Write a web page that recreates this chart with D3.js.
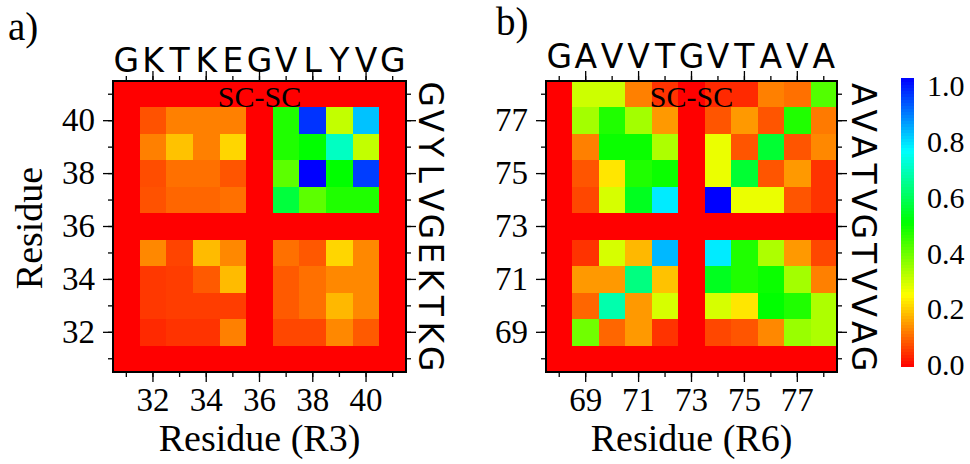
<!DOCTYPE html>
<html>
<head>
<meta charset="utf-8">
<script src="https://cdn.jsdelivr.net/npm/d3@7"></script>
<style>
  body { margin: 0; background: #fff; }
  svg { display: block; }
  text { font-family: "Liberation Serif", "Times New Roman", serif; fill: #000; }
  .seq { font-family: "DejaVu Sans", sans-serif; }
</style>
</head>
<body>
<svg id="chart" width="970" height="464"></svg>
<script>
// ---- R3 segment (residues 31-41) ----
const residuesR3 = [31, 32, 33, 34, 35, 36, 37, 38, 39, 40, 41];
const sequenceR3 = ["G", "K", "T", "K", "E", "G", "V", "L", "Y", "V", "G"];
const labeledR3 = [32, 34, 36, 38, 40];
// rows from top (41) to bottom (31); columns follow residuesR3
const rowsR3 = [41, 40, 39, 38, 37, 36, 35, 34, 33, 32, 31];
const contactsR3 = [
  [0, 0,     0,     0,     0,     0, 0,     0,     0,     0,     0],
  [0, 0.08,  0.125, 0.125, 0.125, 0, 0.47,  0.95,  0.31,  0.81,  0],
  [0, 0.125, 0.19,  0.125, 0.21,  0, 0.47,  0.50,  0.69,  0.31,  0],
  [0, 0.075, 0.11,  0.11,  0.083, 0, 0.41,  1.00,  0.50,  0.94,  0],
  [0, 0.08,  0.10,  0.10,  0.11,  0, 0.56,  0.41,  0.47,  0.47,  0],
  [0, 0,     0,     0,     0,     0, 0,     0,     0,     0,     0],
  [0, 0.133, 0.067, 0.183, 0.133, 0, 0.11,  0.086, 0.21,  0.133, 0],
  [0, 0.055, 0.06,  0.088, 0.183, 0, 0.088, 0.11,  0.133, 0.133, 0],
  [0, 0.055, 0.06,  0.06,  0.06,  0, 0.088, 0.11,  0.18,  0.133, 0],
  [0, 0.04,  0.05,  0.05,  0.125, 0, 0.07,  0.07,  0.133, 0.088, 0],
  [0, 0,     0,     0,     0,     0, 0,     0,     0,     0,     0]
];

// ---- R6 segment (residues 68-78) ----
const residuesR6 = [68, 69, 70, 71, 72, 73, 74, 75, 76, 77, 78];
const sequenceR6 = ["G", "A", "V", "V", "T", "G", "V", "T", "A", "V", "A"];
const labeledR6 = [69, 71, 73, 75, 77];
const rowsR6 = [78, 77, 76, 75, 74, 73, 72, 71, 70, 69, 68];
const contactsR6 = [
  [0, 0.30,  0.30,  0.125, 0.05,  0, 0.04,  0.04,  0.125, 0.11,  0.42],
  [0, 0.34,  0.47,  0.34,  0.15,  0, 0.083, 0.15,  0.083, 0.47,  0.12],
  [0, 0.125, 0.49,  0.49,  0.33,  0, 0.27,  0.083, 0.55,  0.083, 0.133],
  [0, 0.083, 0.225, 0.47,  0.49,  0, 0.27,  0.55,  0.083, 0.15,  0.05],
  [0, 0.07,  0.29,  0.53,  0.77,  0, 1.00,  0.27,  0.27,  0.083, 0.05],
  [0, 0,     0,     0,     0,     0, 0,     0,     0,     0,     0],
  [0, 0.05,  0.29,  0.18,  0.82,  0, 0.77,  0.47,  0.33,  0.15,  0.07],
  [0, 0.15,  0.15,  0.625, 0.19,  0, 0.53,  0.47,  0.49,  0.34,  0.125],
  [0, 0.10,  0.67,  0.15,  0.29,  0, 0.29,  0.225, 0.50,  0.47,  0.33],
  [0, 0.39,  0.10,  0.15,  0.05,  0, 0.07,  0.083, 0.133, 0.35,  0.33],
  [0, 0,     0,     0,     0,     0, 0,     0,     0,     0,     0]
];

const colorTicks = [0, 0.2, 0.4, 0.6, 0.8, 1.0];

// rainbow map: red -> yellow -> green -> cyan -> blue
const color = d3.scaleLinear()
  .domain([0, 0.25, 0.5, 0.75, 1])
  .range(["#ff0000", "#ffff00", "#00ff00", "#00ffff", "#0000ff"])
  .clamp(true);

const svg = d3.select("#chart");
const serif = '"Liberation Serif","Times New Roman",serif';

function drawPanel(p) {
  const x = d3.scaleBand().domain(p.residues).range([p.left, p.right]);
  const y = d3.scaleBand().domain(p.rows).range([81, 372]);
  const g = svg.append("g");

  // contact cells
  const cells = [];
  p.rows.forEach((r, i) => p.residues.forEach((c, j) => cells.push({ r, c, v: p.values[i][j] })));
  g.append("g").selectAll("rect").data(cells).join("rect")
    .attr("x", d => x(d.c)).attr("y", d => y(d.r))
    .attr("width", x.bandwidth() + 0.5).attr("height", y.bandwidth() + 0.5)
    .attr("fill", d => color(d.v))
    .attr("shape-rendering", "crispEdges");

  // axes: short ticks on every residue, long ticks on labeled residues
  const axes = [
    [d3.axisBottom(x), "translate(0,372)", true, 6],
    [d3.axisTop(x), "translate(0,81)", false, 8],
    [d3.axisLeft(y), `translate(${p.left},0)`, true, p.yPad],
    [d3.axisRight(y), `translate(${p.right},0)`, false, 8]
  ];
  axes.forEach(([ax, tr, withLabels, pad]) => {
    const minor = g.append("g").attr("transform", tr)
      .call(ax.tickValues(p.residues).tickSize(5).tickFormat(""));
    minor.select(".domain").remove();
    const major = g.append("g").attr("transform", tr)
      .call(ax.tickValues(p.labeled).tickSize(10).tickPadding(pad)
        .tickFormat(withLabels ? d3.format("d") : ""));
    major.select(".domain").remove();
    major.selectAll("text").style("font-size", "33px").style("font-family", serif);
    g.selectAll(".tick line").attr("stroke", "#000").attr("stroke-width", 1.3);
  });

  // frame
  g.append("rect")
    .attr("x", p.left).attr("y", 81)
    .attr("width", p.right - p.left).attr("height", 291)
    .attr("fill", "none").attr("stroke", "#000").attr("stroke-width", 2);

  // sequence letters along the top
  g.append("g").selectAll("text").data(p.residues).join("text")
    .attr("class", "seq")
    .attr("x", d => x(d) + x.bandwidth() / 2)
    .attr("y", p.seqTop)
    .attr("text-anchor", "middle")
    .style("font-size", "33px")
    .text((d, i) => p.sequence[i]);

  // sequence letters along the right, reading downward
  g.append("g").selectAll("text").data(p.rows).join("text")
    .attr("class", "seq")
    .attr("transform", d => `translate(${p.seqRight},${y(d) + y.bandwidth() / 2}) rotate(90)`)
    .attr("text-anchor", "middle")
    .style("font-size", "33px")
    .text(d => p.sequence[p.residues.indexOf(d)]);

  // in-plot tag
  g.append("text")
    .attr("x", (p.left + p.right) / 2).attr("y", 107)
    .attr("text-anchor", "middle")
    .style("font-size", "30px")
    .text("SC-SC");

  // x axis title
  g.append("text")
    .attr("x", (p.left + p.right) / 2).attr("y", 451)
    .attr("text-anchor", "middle")
    .style("font-size", "38px")
    .text(p.xTitle);

  // panel tag
  g.append("text")
    .attr("x", p.tagX).attr("y", p.tagY)
    .style("font-size", "39px")
    .text(p.tag);
}

drawPanel({
  residues: residuesR3, rows: rowsR3, values: contactsR3, sequence: sequenceR3,
  labeled: labeledR3, left: 113, right: 406, seqTop: 72, seqRight: 419, yPad: 8,
  xTitle: "Residue (R3)", tag: "a)", tagX: 8, tagY: 40
});
drawPanel({
  residues: residuesR6, rows: rowsR6, values: contactsR6, sequence: sequenceR6,
  labeled: labeledR6, left: 546, right: 837, seqTop: 68, seqRight: 852, yPad: 8,
  xTitle: "Residue (R6)", tag: "b)", tagX: 496, tagY: 35
});

// y axis title (left panel only)
svg.append("text")
  .attr("transform", "translate(42,228) rotate(-90)")
  .attr("text-anchor", "middle")
  .style("font-size", "38px")
  .text("Residue");

// ---- colour bar ----
const barY = d3.scaleLinear().domain([0, 1]).range([366, 78]);
const steps = d3.range(0, 1, 1 / 96);
svg.append("g").selectAll("rect").data(steps).join("rect")
  .attr("x", 901).attr("width", 13)
  .attr("y", d => barY(d + 1 / 96))
  .attr("height", d => barY(d) - barY(d + 1 / 96) + 0.5)
  .attr("fill", d => color(d + 0.5 / 96))
  .attr("shape-rendering", "crispEdges");

const labelY = d3.scaleLinear().domain([0, 1]).range([365, 86]);
const cbAxis = svg.append("g").attr("transform", "translate(914,0)")
  .call(d3.axisRight(labelY).tickValues(colorTicks).tickSize(0).tickPadding(13)
    .tickFormat(d3.format(".1f")));
cbAxis.select(".domain").remove();
cbAxis.selectAll("text").style("font-size", "30px").style("font-family", serif);
</script>
</body>
</html>
